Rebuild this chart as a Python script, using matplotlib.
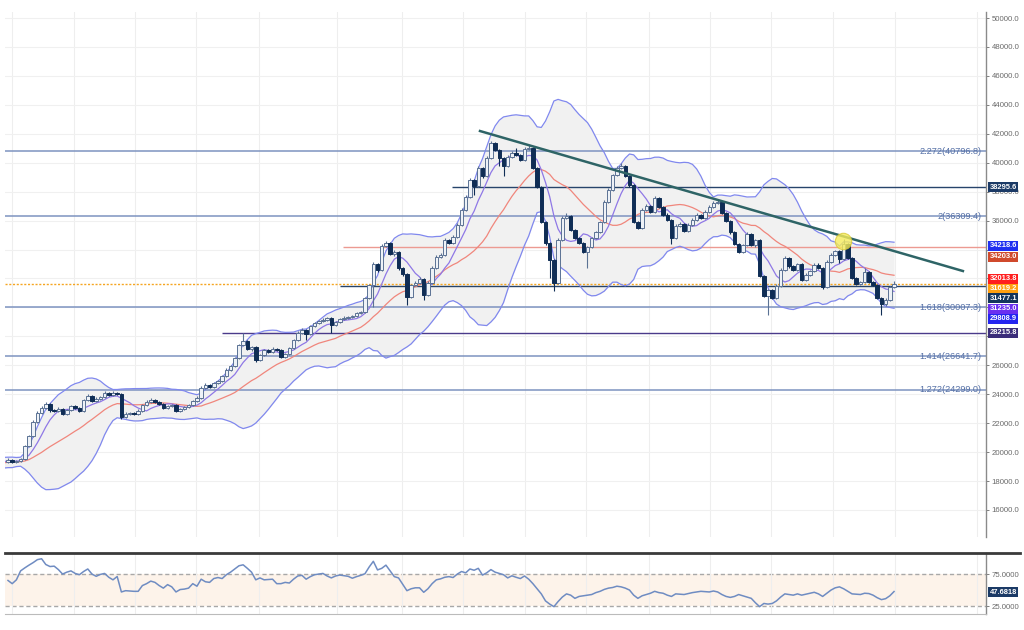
import numpy as np
import pandas as pd
import matplotlib
matplotlib.use("Agg")
import matplotlib.pyplot as plt
from matplotlib.lines import Line2D

# ---------------- data ----------------
prior_closes = [19040, 19250, 18900, 19110, 19380, 19180, 18970, 19320, 19590, 19250,
                19040, 19380, 19520, 19180, 19320, 19450, 19250, 19380, 19520, 19320]

closes = [19450, 19320, 19380, 19520, 20420, 21110, 22080, 22700, 23050, 23320,
          22910, 22840, 22980, 22630, 22910, 23190, 23050, 22840, 23600, 23880,
          23530, 23670, 23810, 24080, 23950, 24080, 24020, 22430, 22630, 22700,
          22630, 22840, 23250, 23460, 23600, 23460, 23320, 23050, 23190, 23250,
          22840, 22980, 23120, 23250, 23530, 23740, 24430, 24640, 24500, 24780,
          24910, 25260, 25670, 25950, 26500, 27400, 27680, 27120, 27260, 26360,
          26710, 27060, 26920, 27120, 27060, 26570, 26780, 27190, 27750, 28230,
          28440, 28160, 28710, 28920, 29060, 29130, 29270, 28780, 28990, 29200,
          29270, 29340, 29410, 29610, 29680, 30650, 31550, 33000, 32580, 34240,
          34450, 33690, 33830, 32720, 32310, 30720, 31550, 31690, 31960, 30860,
          31690, 32720, 33480, 33620, 34660, 34450, 34870, 35690, 36730, 37630,
          38800, 38390, 39630, 39080, 40330, 41360, 40880, 40330, 39770, 40390,
          40670, 40530, 40190, 40950, 41020, 39630, 38320, 35900, 34450, 33280,
          31690, 34660, 36180, 36320, 35350, 34800, 34450, 33830, 34170, 34800,
          35210, 35900, 37280, 38110, 39150, 39630, 39770, 39080, 38460, 35900,
          35490, 36730, 37010, 36590, 37560, 36940, 36390, 36040, 34800, 35630,
          35760, 35280, 35690, 36040, 36390, 36180, 36590, 36940, 37220, 37280,
          36520, 35970, 35210, 34380, 33830, 34310, 35070, 34310, 34660, 32170,
          30790, 31200, 30650, 31480, 32580, 33410, 32860, 32580, 33000, 31890,
          32240, 32520, 32930, 32720, 31410, 33140, 33620, 33900, 33340, 34380,
          33410, 32030, 31620, 31760, 32450, 31760, 31550, 30650, 30230, 30510,
          31410, 31619.2]

highs = [19560, 19520, 19450, 19600, 20500, 21200, 22200, 22850, 23200, 23450,
         23400, 23000, 23100, 23050, 23000, 23280, 23250, 23100, 23700, 24000,
         23950, 23800, 23900, 24250, 24150, 24200, 24150, 24080, 22750, 22800,
         22780, 22950, 23350, 23600, 23750, 23650, 23520, 23380, 23280, 23350,
         23300, 23080, 23200, 23350, 23620, 23850, 24550, 24750, 24720, 24880,
         25000, 25350, 25780, 26050, 26600, 27500, 28200, 27750, 27350, 27300,
         26800, 27150, 27150, 27250, 27200, 27100, 26850, 27280, 27850, 28350,
         28550, 28500, 28800, 29000, 29150, 29250, 29350, 29320, 29080, 29280,
         29380, 29420, 29500, 29700, 29780, 30750, 31650, 33150, 33100, 34400,
         34600, 34500, 33950, 33900, 32800, 32400, 31650, 31850, 32100, 32050,
         31800, 32850, 33600, 33750, 34800, 34750, 35000, 35800, 36850, 37750,
         38950, 38900, 39800, 39700, 40450, 41500, 41450, 40950, 40400, 40500,
         40800, 41000, 40600, 41100, 41200, 41100, 39700, 38400, 36000, 34550,
         33350, 34800, 36300, 36500, 36400, 35450, 34900, 34550, 34250, 34900,
         35300, 36000, 37400, 38250, 39250, 39750, 39950, 39850, 39150, 38550,
         36000, 36850, 37150, 37100, 37700, 37650, 37000, 36500, 36100, 35750,
         35900, 35850, 35800, 36150, 36500, 36450, 36700, 37050, 37350, 37450,
         37350, 36600, 36050, 35300, 34450, 34400, 35200, 35150, 34750, 34700,
         32250, 31300, 31300, 31600, 32700, 33550, 33500, 32950, 33100, 33050,
         32350, 32600, 33050, 33050, 32800, 33250, 33750, 34000, 33950, 34700,
         34450, 33500, 32100, 31850, 32750, 32500, 31850, 31600, 30700, 30650,
         31500, 31850]

lows = [19250, 19250, 19240, 19330, 19480, 20350, 21050, 22000, 22600, 22950,
        22800, 22750, 22750, 22550, 22550, 22850, 22950, 22750, 22800, 23550,
        23450, 23450, 23600, 23750, 23880, 23900, 23950, 22300, 22350, 22550,
        22550, 22580, 22800, 23200, 23400, 23380, 23250, 22980, 22980, 23120,
        22780, 22780, 22920, 23050, 23200, 23480, 23700, 24350, 24420, 24450,
        24700, 24850, 25200, 25600, 25900, 26450, 27350, 27050, 27000, 26250,
        26300, 26650, 26850, 26880, 26980, 26500, 26480, 26720, 27150, 27700,
        28150, 27750, 28100, 28650, 28850, 29000, 29050, 28230, 28720, 28950,
        29150, 29200, 29280, 29350, 29550, 29600, 30600, 30000, 32450, 32500,
        34150, 33600, 33550, 32600, 32200, 30150, 30650, 31450, 31600, 30500,
        30800, 31650, 32650, 33400, 33550, 34350, 34400, 34800, 35600, 36650,
        37550, 37800, 38300, 38950, 39000, 40250, 40800, 39800, 39100, 39700,
        40300, 40450, 40100, 40150, 40900, 39550, 38250, 35800, 34300, 32000,
        31100, 31600, 34600, 36100, 35250, 34700, 34350, 33750, 32700, 34100,
        34700, 35150, 35850, 37200, 38050, 39050, 39550, 39000, 38350, 35800,
        35400, 35400, 36650, 36500, 36500, 36850, 36300, 35950, 34350, 34700,
        35550, 35200, 35200, 35600, 35950, 36100, 36100, 36500, 36850, 37150,
        36450, 35900, 35100, 34300, 33750, 33750, 34250, 34250, 34200, 32100,
        30700, 29500, 30550, 30600, 31400, 32500, 32750, 32500, 32500, 31800,
        31800, 32150, 32450, 32650, 31300, 31350, 33050, 33550, 33100, 33300,
        33350, 31950, 31550, 31550, 31700, 31700, 31450, 30550, 29500, 30100,
        30450, 31350]

rsi_values = [65, 60, 66, 80, 84.7, 89, 93, 97.6, 99, 90,
              86.8, 87.4, 82, 75, 78, 80, 76, 74, 79, 83,
              75, 71.5, 74.5, 76, 70, 66, 71.2, 47, 49, 48.5,
              48, 48, 57, 60, 64, 62, 57, 53, 58.5, 55,
              47, 50.8, 51.5, 53, 60, 56, 67, 63, 62, 68,
              69.6, 68, 74, 78, 83, 88, 89.5, 84, 78, 66,
              69, 66, 66.5, 67, 60, 60, 62, 61, 67, 72,
              73, 67, 71, 74, 75, 76, 72, 69, 72, 73.5,
              72.5, 71.5, 68.5, 71, 73, 75.5, 86, 95, 81.5, 84,
              89, 80, 71, 69, 59, 49, 52, 53.5, 53.5, 46.5,
              52, 60, 66, 67.5, 70, 71, 69.6, 75, 79, 77,
              83, 81, 84, 73.4, 77, 82, 78, 76, 74, 69,
              72.3, 70, 68, 72, 67, 60, 52, 44, 33, 28,
              24, 32, 39, 44, 42, 37, 40, 41, 42, 43,
              46, 48, 51, 53, 54, 56, 55, 53, 50, 42,
              37, 41, 43, 45, 48, 46, 45, 42, 40, 44,
              43.5, 43, 44.5, 46, 47, 48, 47.5, 47, 48.5, 47,
              43, 40, 38.5, 40, 43, 41, 39, 37, 30, 24,
              29, 28, 29, 33, 39, 44, 43, 42, 44, 42,
              43.5, 45, 46.5, 44, 40, 45, 50, 53.5, 55, 52,
              48, 44, 43.5, 43, 45, 44.5, 42, 38, 35, 36.5,
              41, 47.68]

fib_values = [40796.8, 36309.4, 30007.3, 26641.7, 24299.0]
fib_labels = ["2.272(40796.8)", "2(36309.4)", "1.618(30007.3)", "1.414(26641.7)", "1.272(24299.0)"]

level_values = [38295.6, 34203.0, 31477.1, 28215.8]
level_start = [105.7, 79.8, 79.0, 51.0]          # candle index where each drawn level begins
level_colors = ["#27446b", "#ec9a92", "#27446b", "#4a3a8a"]

last_price = 31619.2

trend_idx = [112.4, 227.4]
trend_price = [42190, 32515]

marker_idx = [198.8]
marker_price = [34590]

tag_texts = ["38295.6", "34218.6", "34203.0", "32013.8", "31619.2",
             "31477.1", "31235.0", "29808.9", "28215.8"]
tag_colors = ["#1b3a66", "#1f2ff0", "#d04a2c", "#ff1e1e", "#ffa010",
              "#14355c", "#6a2ff0", "#2424f0", "#3b2d7a"]
tag_ypix = [187, 246, 257, 279, 289, 298, 309, 319, 333]

rsi_last_text = "47.6818"

# price ticks whose labels sit under a value tag in the reference
hidden_ticks = [28000, 30000, 32000, 34000]

# ---------------- derived indicators ----------------
all_closes = pd.Series(prior_closes + closes, dtype=float)
npre = len(prior_closes)
N = len(closes)
x_all = np.arange(-npre, N)
x = np.arange(N)
opens = np.array((prior_closes + closes)[npre - 1:npre - 1 + N], dtype=float)
closes_a = np.array(closes, dtype=float)
highs_a = np.array(highs, dtype=float)
lows_a = np.array(lows, dtype=float)

mid = all_closes.rolling(20, min_periods=1).mean()
sd = all_closes.rolling(20, min_periods=1).std(ddof=0)
upper = mid + 2 * sd
lower = mid - 2 * sd
fast = all_closes.rolling(7, min_periods=1).mean()

# ---------------- figure ----------------
W, H = 1024, 630
fig = plt.figure(figsize=(W / 100, H / 100), dpi=100)
fig.patch.set_facecolor("white")

def fx(px):
    return px / W

def fy(py):
    return 1 - py / H

ax = fig.add_axes([fx(5), fy(537), fx(986) - fx(5), fy(12) - fy(537)])
ax2 = fig.add_axes([fx(5), fy(614), fx(986) - fx(5), fy(553) - fy(614)], sharex=ax)

xl = (-0.714, 232.9)
ax.set_xlim(*xl)
ax.set_ylim(14134, 50415)

grid_x = [0.95, 15.7, 30.2, 44.8, 59.8, 78.3, 93.8, 108.3, 123.1, 137.6,
          152.6, 167.1, 181.7, 196.4, 211.2, 230.7]

TICKFONT = "Liberation Sans"
for a in (ax, ax2):
    a.set_facecolor("white")
    for s in ("left", "top", "bottom"):
        a.spines[s].set_visible(False)
    a.spines["right"].set_color("#8a8a8a")
    a.spines["right"].set_linewidth(1.0)
    a.set_xticks(grid_x)
    a.tick_params(axis="x", length=0, labelbottom=False)
    a.yaxis.tick_right()
    a.tick_params(axis="y", labelsize=5.6, colors="#6a6a6a", length=2.5, pad=1.5, width=0.6)
    a.grid(axis="x", color="#eeeeee", lw=0.8, zorder=0)

yt = np.arange(16000, 50001, 2000)
ax.set_yticks(yt)
ax.set_yticklabels(["" if v in hidden_ticks else f"{v:.1f}" for v in yt], fontfamily=TICKFONT)
ax.grid(axis="y", color="#f0f0f0", lw=0.8, zorder=0)
ax.set_axisbelow(True)

# Bollinger band fill + lines
ax.fill_between(x_all, lower, upper, color="#f1f1f1", zorder=1, lw=0)
ax.plot(x_all, upper, color="#8088ee", lw=0.9, zorder=3)
ax.plot(x_all, lower, color="#8088ee", lw=0.9, zorder=3)
ax.plot(x_all, mid, color="#f0867c", lw=0.9, zorder=3)
ax.plot(x_all, fast, color="#8f78e6", lw=0.9, zorder=3)

# Fibonacci lines
lab_x = (982 - 8) / 4.2
for v, lab in zip(fib_values, fib_labels):
    ax.axhline(v, color="#7d93c0", lw=1.1, zorder=2)
    ax.text(lab_x, v, lab, ha="right", va="center", fontsize=6.6, color="#5570a6",
            fontfamily=TICKFONT, zorder=6)

# other horizontal levels
for v, s0, c in zip(level_values, level_start, level_colors):
    ax.hlines(v, s0, xl[1], color=c, lw=1.0, zorder=2)
ax.axhline(last_price, color="#f5a623", lw=1.0, ls=(0, (1.5, 1.2)), zorder=2)

# candles
up = closes_a >= opens
body_lo = np.minimum(opens, closes_a)
body_h = np.maximum(np.abs(closes_a - opens), 50)
wick_col = np.where(up, "#5b7294", "#0f2d55")
ax.vlines(x, lows_a, highs_a, colors=wick_col, lw=0.8, zorder=4)
ax.bar(x[up], body_h[up], bottom=body_lo[up], width=0.84, color="#eef2f7",
       edgecolor="#5b7294", lw=0.7, zorder=5)
ax.bar(x[~up], body_h[~up], bottom=body_lo[~up], width=0.84, color="#0f2d55",
       edgecolor="#0f2d55", lw=0.7, zorder=5)

# trend line and highlight marker
ax.plot(trend_idx, trend_price, color="#2e6466", lw=1.8, zorder=6)
ax.scatter(marker_idx, marker_price, s=140, color="#f6ec5a", alpha=0.8,
           edgecolors="#d9c93a", linewidths=0.8, zorder=7)

# ---------------- RSI panel ----------------
ax2.set_ylim(12.5, 108)
ax2.axhspan(25, 75, color="#fdf3ea", zorder=0, lw=0)
ax2.axhline(75, color="#a8a8a8", lw=1.0, ls=(0, (3, 2)), zorder=1)
ax2.axhline(25, color="#a8a8a8", lw=1.0, ls=(0, (3, 2)), zorder=1)
ax2.plot(x, rsi_values, color="#6f8cc2", lw=1.1, zorder=3)
ax2.set_yticks([25, 75])
ax2.set_yticklabels(["25.0000", "75.0000"], fontfamily=TICKFONT)
ax2.spines["bottom"].set_visible(True)
ax2.spines["bottom"].set_color("#bbbbbb")
ax2.spines["bottom"].set_linewidth(0.8)

fig.add_artist(Line2D([fx(5), fx(1020)], [fy(553), fy(553)], color="#3a3a3a", lw=2.0))

# ---------------- right-axis value tags ----------------
for t, c, py in zip(tag_texts, tag_colors, tag_ypix):
    fig.text(fx(989.5), fy(py), t, ha="left", va="center", fontsize=5.4, color="white",
             fontweight="bold", fontfamily=TICKFONT,
             bbox=dict(boxstyle="square,pad=0.14", fc=c, ec="none"))
fig.text(fx(989.5), fy(592), rsi_last_text, ha="left", va="center", fontsize=5.4, color="white",
         fontweight="bold", fontfamily=TICKFONT,
         bbox=dict(boxstyle="square,pad=0.14", fc="#1b3a66", ec="none"))

fig.savefig("out.png", dpi=100)
